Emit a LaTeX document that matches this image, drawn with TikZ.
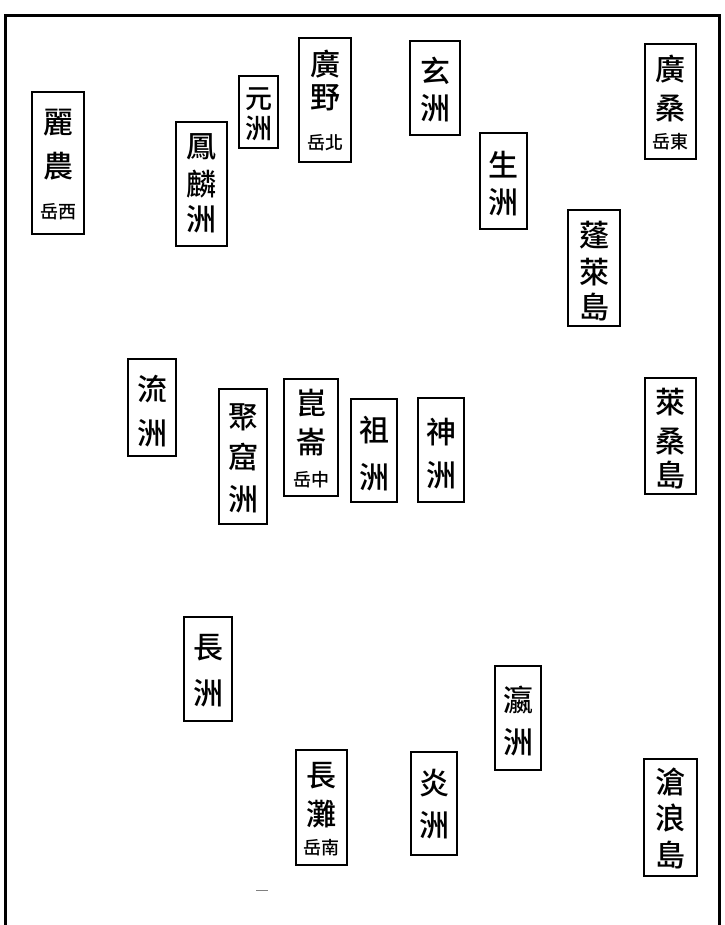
\documentclass[tikz,border=0pt]{standalone}
\usepackage{fontspec}
\newfontfamily\cjk{Noto Sans CJK TC}[BoldFont={Noto Sans CJK TC Medium}]
\tikzset{
  frameline/.style={line width=3pt, black, line cap=rect},
  isle/.style={draw=black, line width=2.8pt, rectangle, inner sep=0pt, fill=white},
  ch/.style={inner sep=0pt, font=\cjk\bfseries\fontsize{30}{30}\selectfont},
  chs/.style={inner sep=0pt, font=\cjk\bfseries\fontsize{18}{18}\selectfont},
  chn/.style={inner sep=0pt, font=\cjk\bfseries\fontsize{27}{27}\selectfont},
}
\newcommand{\isle}[6]{% name, cx, cy, w, h
  \node[isle, minimum width=#4pt, minimum height=#5pt] (#1) at (#2,#3) {};}
\begin{document}
\begin{tikzpicture}[x=1pt,y=-1pt]
\useasboundingbox (0,0) rectangle (724,925);
\fill[white] (0,0) rectangle (724,925);
% outer frame (open at the bottom)
\coordinate (fbl) at (5.5,925);
\coordinate (ftl) at (5.5,16);
\coordinate (ftr) at (719.5,16);
\coordinate (fbr) at (719.5,925);
\draw[frameline] (fbl) -- (ftl) -- (ftr) -- (fbr);

% 1 麗農 岳西
\isle{liNong}{58}{163}{52}{142}{}
\node[ch] (liNong-a) at (58,123) {麗};
\node[ch] (liNong-b) at (58,166) {農};
\node[chs] (liNong-c) at (58,212) {岳西};
% 2 鳳麟洲
\isle{fengLin}{201.5}{184}{51}{124}{}
\node[ch] (fengLin-a) at (201.5,147) {鳳};
\node[ch] (fengLin-b) at (201.5,184) {麟};
\node[ch] (fengLin-c) at (201.5,219) {洲};
% 3 元洲
\isle{yuan}{258.5}{112}{39}{72}{}
\node[chn] (yuan-a) at (258.5,99) {元};
\node[chn] (yuan-b) at (258.5,128) {洲};
% 4 廣野 岳北
\isle{guangYe}{325}{100}{52}{124}{}
\node[ch] (guangYe-a) at (325,64) {廣};
\node[ch] (guangYe-b) at (325,98) {野};
\node[chs] (guangYe-c) at (325,143) {岳北};
% 5 玄洲
\isle{xuan}{435}{88}{50}{94}{}
\node[ch] (xuan-a) at (435,71) {玄};
\node[ch] (xuan-b) at (435,108) {洲};
% 6 生洲
\isle{sheng}{503.5}{181}{47}{96}{}
\node[ch] (sheng-a) at (503.5,165) {生};
\node[ch] (sheng-b) at (503.5,202) {洲};
% 7 廣桑 岳東
\isle{guangSang}{670.5}{101.5}{51}{115}{}
\node[ch] (guangSang-a) at (670.5,69) {廣};
\node[ch] (guangSang-b) at (670.5,108) {桑};
\node[chs] (guangSang-c) at (670.5,142) {岳東};
% 8 蓬萊島
\isle{pengLai}{594}{268}{52}{116}{}
\node[ch] (pengLai-a) at (594,235) {蓬};
\node[ch] (pengLai-b) at (594,272) {萊};
\node[ch] (pengLai-c) at (594,307) {島};
% 9 流洲
\isle{liu}{152}{407.5}{48}{97}{}
\node[ch] (liu-a) at (152,389) {流};
\node[ch] (liu-b) at (152,433) {洲};
% 10 聚窟洲
\isle{juKu}{243}{456.5}{48}{135}{}
\node[ch] (juKu-a) at (243,417) {聚};
\node[ch] (juKu-b) at (243,457) {窟};
\node[ch] (juKu-c) at (243,499) {洲};
% 11 崑崙 岳中
\isle{kunLun}{311}{437.5}{54}{117}{}
\node[ch] (kunLun-a) at (311,403) {崑};
\node[ch] (kunLun-b) at (311,442) {崙};
\node[chs] (kunLun-c) at (311,480) {岳中};
% 12 祖洲
\isle{zu}{374}{450.5}{46}{103}{}
\node[ch] (zu-a) at (374,430) {祖};
\node[ch] (zu-b) at (374,477) {洲};
% 13 神洲
\isle{shen}{441}{450}{46}{104}{}
\node[ch] (shen-a) at (441,432) {神};
\node[ch] (shen-b) at (441,475) {洲};
% 14 萊桑島
\isle{laiSang}{670.5}{436}{51}{116}{}
\node[ch] (laiSang-a) at (670.5,402) {萊};
\node[ch] (laiSang-b) at (670.5,441) {桑};
\node[ch] (laiSang-c) at (670.5,475) {島};
% 15 長洲
\isle{chang}{208}{669}{48}{104}{}
\node[ch] (chang-a) at (208,648) {長};
\node[ch] (chang-b) at (208,693) {洲};
% 16 瀛洲
\isle{ying}{518}{718}{46}{104}{}
\node[ch] (ying-a) at (518,700) {瀛};
\node[ch] (ying-b) at (518,742) {洲};
% 17 長灘 岳南
\isle{changTan}{321.5}{807.5}{51}{115}{}
\node[ch] (changTan-a) at (321.5,776) {長};
\node[ch] (changTan-b) at (321.5,814) {灘};
\node[chs] (changTan-c) at (321.5,848) {岳南};
% 18 炎洲
\isle{yan}{434}{803.5}{46}{103}{}
\node[ch] (yan-a) at (434,783) {炎};
\node[ch] (yan-b) at (434,825) {洲};
% 19 滄浪島
\isle{cangLang}{670.5}{817.5}{53}{117}{}
\node[ch] (cangLang-a) at (670.5,782) {滄};
\node[ch] (cangLang-b) at (670.5,818) {浪};
\node[ch] (cangLang-c) at (670.5,855) {島};

% small speck near the bottom
\coordinate (speckA) at (256,890);
\coordinate (speckB) at (268,890);
\draw[gray, line width=1pt] (speckA) -- (speckB);
\end{tikzpicture}
\end{document}
